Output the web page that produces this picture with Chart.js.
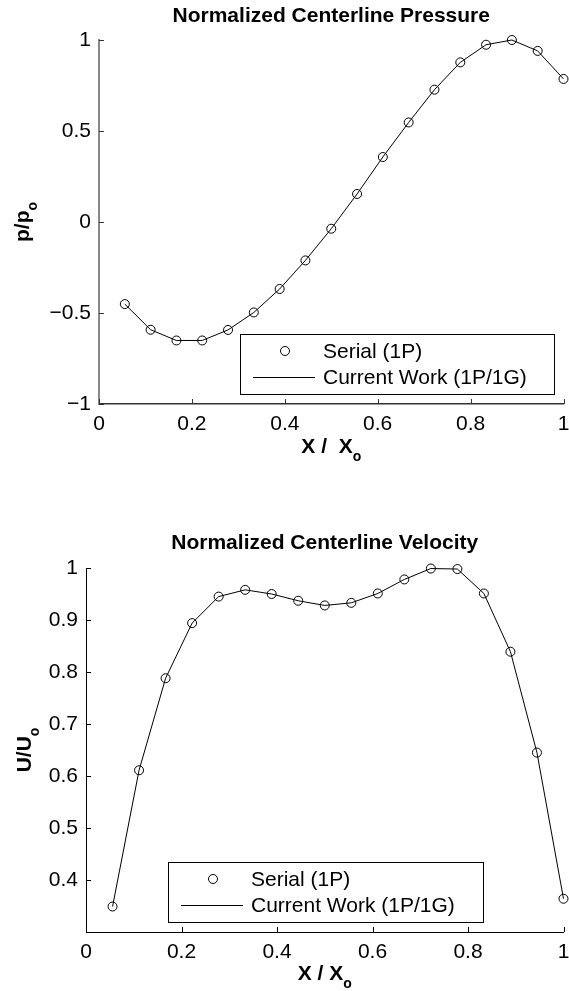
<!DOCTYPE html>
<html>
<head>
<meta charset="utf-8">
<script src="https://cdn.jsdelivr.net/npm/chart.js@4.4.1/dist/chart.umd.min.js"></script>
<style>
  html, body { margin: 0; padding: 0; background: #fff; }
  #box1 { position: absolute; left: 0; top: 0; }
  #box2 { position: absolute; left: 0; top: 500px; }
</style>
</head>
<body>
<div id="box1"><canvas id="pressureChart" width="569" height="500"></canvas></div>
<div id="box2"><canvas id="velocityChart" width="569" height="491"></canvas></div>
<script>
var xValues = [0.0556, 0.1111, 0.1667, 0.2222, 0.2778, 0.3333, 0.3889, 0.4444, 0.5, 0.5556, 0.6111, 0.6667, 0.7222, 0.7778, 0.8333, 0.8889, 0.9444, 1.0];
var pressureValues = [-0.451, -0.592, -0.651, -0.651, -0.593, -0.497, -0.368, -0.211, -0.037, 0.154, 0.357, 0.547, 0.727, 0.877, 0.974, 1.0, 0.94, 0.786];
var velocityValues = [0.349, 0.611, 0.788, 0.894, 0.945, 0.958, 0.950, 0.937, 0.928, 0.933, 0.951, 0.978, 0.999, 0.998, 0.951, 0.839, 0.645, 0.364];
var xTicks = [0, 0.2, 0.4, 0.6, 0.8, 1];
var pressureTicks = [-1, -0.5, 0, 0.5, 1];
var velocityTicks = [0.4, 0.5, 0.6, 0.7, 0.8, 0.9, 1];
var seriesLabels = ["Serial (1P)", "Current Work (1P/1G)"];

var FONT = '"Liberation Sans", Arial, Helvetica, sans-serif';

function toPoints(xs, ys) {
  return xs.map(function (x, i) { return { x: x, y: ys[i] }; });
}

// text with a subscript, centred on (cx, baseline)
function drawSub(ctx, main, sub, cx, base, rotated) {
  ctx.font = 'bold 21px ' + FONT;
  var wm = ctx.measureText(main).width;
  ctx.font = 'bold 14px ' + FONT;
  var ws = ctx.measureText(sub).width;
  var start = -(wm + ws) / 2;
  ctx.save();
  if (rotated) {
    ctx.translate(base, cx);
    ctx.rotate(-Math.PI / 2);
  } else {
    ctx.translate(cx, base);
  }
  ctx.textAlign = 'left';
  ctx.textBaseline = 'alphabetic';
  ctx.font = 'bold 21px ' + FONT;
  ctx.fillText(main, start, 0);
  ctx.font = 'bold 14px ' + FONT;
  ctx.fillText(sub, start + wm, 8);
  ctx.restore();
}

var decor = {
  id: 'decor',
  afterDraw: function (chart, args, o) {
    var ctx = chart.ctx, a = chart.chartArea;
    var xs = chart.scales.x, ys = chart.scales.y;
    ctx.save();
    // ticks point into the plot
    ctx.lineWidth = 1;
    ctx.strokeStyle = o.tickColor;
    ctx.beginPath();
    xs.ticks.forEach(function (t) {
      var px = Math.round(xs.getPixelForValue(t.value)) + 0.5;
      ctx.moveTo(px, a.bottom);
      ctx.lineTo(px, a.bottom - 5);
    });
    ys.ticks.forEach(function (t) {
      var py = Math.round(ys.getPixelForValue(t.value)) + 0.5;
      ctx.moveTo(a.left, py);
      ctx.lineTo(a.left + 5, py);
    });
    ctx.stroke();

    ctx.fillStyle = '#000';
    ctx.font = 'bold 21px ' + FONT;
    ctx.textAlign = 'center';
    ctx.textBaseline = 'middle';
    ctx.fillText(o.title, (a.left + a.right) / 2, o.titleY);

    drawSub(ctx, o.xLabel[0], o.xLabel[1], (a.left + a.right) / 2, o.xLabelBase, false);
    drawSub(ctx, o.yLabel[0], o.yLabel[1], (a.top + a.bottom) / 2, o.yLabelBase, true);

    // legend box
    var L = o.legend;
    ctx.fillStyle = '#fff';
    ctx.fillRect(L.x, L.y, L.w, L.h);
    ctx.strokeStyle = '#000';
    ctx.lineWidth = 1;
    ctx.strokeRect(L.x + 0.5, L.y + 0.5, L.w, L.h);
    var ds = chart.data.datasets;
    ctx.beginPath();
    ctx.arc(L.x + 45, L.y + 17, 4.5, 0, Math.PI * 2);
    ctx.stroke();
    ctx.beginPath();
    ctx.moveTo(L.x + 13, L.y + 43.5);
    ctx.lineTo(L.x + 75, L.y + 43.5);
    ctx.stroke();
    ctx.fillStyle = '#000';
    ctx.font = '21px ' + FONT;
    ctx.textAlign = 'left';
    ctx.textBaseline = 'middle';
    ctx.fillText(ds[0].label, L.x + 83, L.y + 18);
    ctx.fillText(ds[1].label, L.x + 83, L.y + 44);
    ctx.restore();
  }
};

function makeChart(id, yValues, yMin, yTickList, axisColors, sizes, decorOpts) {
  return new Chart(id, {
    type: 'scatter',
    data: {
      datasets: [
        {
          label: seriesLabels[0],
          data: toPoints(xValues, yValues),
          showLine: false,
          pointRadius: 4.5,
          pointHoverRadius: 4.5,
          pointBorderWidth: 1,
          pointBorderColor: '#000',
          pointBackgroundColor: 'rgba(0,0,0,0)',
          clip: false
        },
        {
          label: seriesLabels[1],
          data: toPoints(xValues, yValues),
          showLine: true,
          borderColor: '#000',
          borderWidth: 1,
          pointRadius: 0,
          tension: 0,
          clip: false
        }
      ]
    },
    options: {
      responsive: false,
      animation: false,
      devicePixelRatio: 1,
      layout: { padding: sizes.padding },
      plugins: {
        legend: { display: false },
        tooltip: { enabled: false },
        decor: decorOpts
      },
      scales: {
        x: {
          type: 'linear',
          min: 0,
          max: 1,
          grid: { display: false, drawTicks: false },
          border: { display: true, color: axisColors.x, width: axisColors.xw },
          ticks: {
            color: '#000',
            font: { family: FONT, size: 21 },
            padding: 8,
            maxRotation: 0,
            callback: function (v) { return String(v); }
          },
          afterBuildTicks: function (s) { s.ticks = xTicks.map(function (v) { return { value: v }; }); },
          afterFit: function (s) { s.height = sizes.xh; s.paddingLeft = 0; s.paddingRight = 0; }
        },
        y: {
          type: 'linear',
          min: yMin,
          max: 1,
          grid: { display: false, drawTicks: false },
          border: { display: true, color: axisColors.y, width: axisColors.yw },
          ticks: {
            color: '#000',
            font: { family: FONT, size: 21 },
            padding: 8,
            callback: function (v) { return String(v).replace('-', '\u2212'); }
          },
          afterBuildTicks: function (s) { s.ticks = yTickList.map(function (v) { return { value: v }; }); },
          afterFit: function (s) { s.width = sizes.yw; s.paddingTop = 0; s.paddingBottom = 0; }
        }
      }
    },
    plugins: [decor]
  });
}

makeChart('pressureChart', pressureValues, -1, pressureTicks,
  { x: '#333', xw: 1.5, y: '#888', yw: 2 },
  { padding: { top: 40, right: 3, left: 0, bottom: 0 }, xh: 96, yw: 99 },
  {
    tickColor: '#333',
    title: 'Normalized Centerline Pressure', titleY: 16,
    xLabel: ['X /  X', 'o'], xLabelBase: 453,
    yLabel: ['p/p', 'o'], yLabelBase: 29,
    legend: { x: 240, y: 334, w: 314, h: 60 }
  });

makeChart('velocityChart', velocityValues, 0.3, velocityTicks,
  { x: '#000', xw: 1, y: '#000', yw: 1 },
  { padding: { top: 68, right: 5, left: 0, bottom: 0 }, xh: 59, yw: 86 },
  {
    tickColor: '#000',
    title: 'Normalized Centerline Velocity', titleY: 43,
    xLabel: ['X / X', 'o'], xLabelBase: 480,
    yLabel: ['U/U', 'o'], yLabelBase: 31,
    legend: { x: 168, y: 362, w: 315, h: 60 }
  });
</script>
</body>
</html>
